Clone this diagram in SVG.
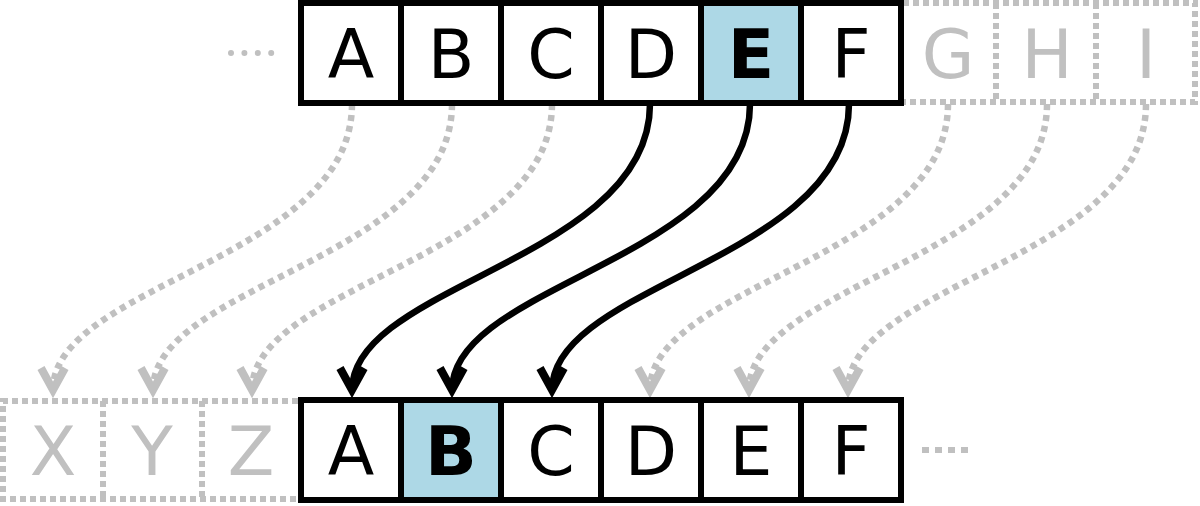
<svg xmlns="http://www.w3.org/2000/svg" width="1200" height="506" viewBox="0 0 1200 506">
<style>
.cell{fill:#fff;stroke:#000;stroke-width:6}
.hl{fill:#add8e6}
.t{font-family:"DejaVu Sans",sans-serif;font-size:68px;text-anchor:middle;fill:#000}
.b{font-weight:bold}
.g{fill:#c0c0c0}
.gb{fill:none;stroke:#c0c0c0;stroke-width:6;stroke-dasharray:6,4}
.ga{fill:none;stroke:#c0c0c0;stroke-width:6.5;stroke-dasharray:6,5;marker-end:url(#vg)}
.ba{fill:none;stroke:#000;stroke-width:6.5;marker-end:url(#vb)}
</style>
<defs>
<marker id="vb" markerUnits="userSpaceOnUse" markerWidth="60" markerHeight="60" viewBox="-40 -30 60 60" refX="0" refY="0" orient="auto" overflow="visible">
<path d="M-22,-12 L0,0 L-22,12" fill="none" stroke="#000" stroke-width="8" stroke-linejoin="miter" stroke-miterlimit="10"/>
</marker>
<marker id="vg" markerUnits="userSpaceOnUse" markerWidth="60" markerHeight="60" viewBox="-40 -30 60 60" refX="0" refY="0" orient="auto" overflow="visible">
<path d="M-22,-12 L0,0 L-22,12" fill="none" stroke="#c0c0c0" stroke-width="8" stroke-linejoin="miter" stroke-miterlimit="10"/>
</marker>
</defs>
<g id="connectors">
<path class="ga" d="M352,104 C352,259 53,284 53,390"/>
<path class="ga" d="M452,104 C452,259 153,284 153,390"/>
<path class="ga" d="M552,104 C552,259 252,284 252,390"/>
<path class="ga" d="M948,104 C948,259 650,284 650,390"/>
<path class="ga" d="M1047,104 C1047,259 749,284 749,390"/>
<path class="ga" d="M1146,104 C1146,259 848,284 848,390"/>
<path class="ba" d="M650,104 C650,259 352,284 352,390"/>
<path class="ba" d="M750,104 C750,259 452,284 452,390"/>
<path class="ba" d="M849,104 C849,259 552,284 552,390"/>
</g>
<g id="ellipsis-top"><line x1="231" y1="53" x2="272" y2="53" stroke="#c0c0c0" stroke-width="6" stroke-linecap="round" stroke-dasharray="0,13.4"/></g>
<g id="ellipsis-bottom"><line x1="922" y1="450" x2="972" y2="450" stroke="#c0c0c0" stroke-width="6" stroke-dasharray="7,6"/></g>
<g id="top-ghost">
<path class="gb" d="M903,3 H1195 V102 H903 M996,3 V102 M1096,3 V102"/>
<text class="t g" x="948" y="78">G</text>
<text class="t g" x="1047" y="78">H</text>
<text class="t g" x="1146" y="78">I</text>
</g>
<g id="bottom-ghost">
<path class="gb" d="M298,401 H3 V499 H298 M103,401 V499 M202,401 V499"/>
<text class="t g" x="53" y="475">X</text>
<text class="t g" x="152" y="475">Y</text>
<text class="t g" x="251" y="475">Z</text>
</g>
<g id="top-A"><rect class="cell" x="301" y="3" width="100" height="100"/><text class="t" x="351" y="78">A</text></g>
<g id="top-B"><rect class="cell" x="401" y="3" width="100" height="100"/><text class="t" x="451" y="78">B</text></g>
<g id="top-C"><rect class="cell" x="501" y="3" width="100" height="100"/><text class="t" x="551" y="78">C</text></g>
<g id="top-D"><rect class="cell" x="601" y="3" width="100" height="100"/><text class="t" x="651" y="78">D</text></g>
<g id="top-E"><rect class="cell hl" x="701" y="3" width="100" height="100"/><text class="t b" x="751" y="78">E</text></g>
<g id="top-F"><rect class="cell" x="801" y="3" width="100" height="100"/><text class="t" x="851" y="78">F</text></g>
<g id="bot-A"><rect class="cell" x="301" y="400" width="100" height="100"/><text class="t" x="351" y="475">A</text></g>
<g id="bot-B"><rect class="cell hl" x="401" y="400" width="100" height="100"/><text class="t b" x="451" y="475">B</text></g>
<g id="bot-C"><rect class="cell" x="501" y="400" width="100" height="100"/><text class="t" x="551" y="475">C</text></g>
<g id="bot-D"><rect class="cell" x="601" y="400" width="100" height="100"/><text class="t" x="651" y="475">D</text></g>
<g id="bot-E"><rect class="cell" x="701" y="400" width="100" height="100"/><text class="t" x="751" y="475">E</text></g>
<g id="bot-F"><rect class="cell" x="801" y="400" width="100" height="100"/><text class="t" x="851" y="475">F</text></g>
</svg>
